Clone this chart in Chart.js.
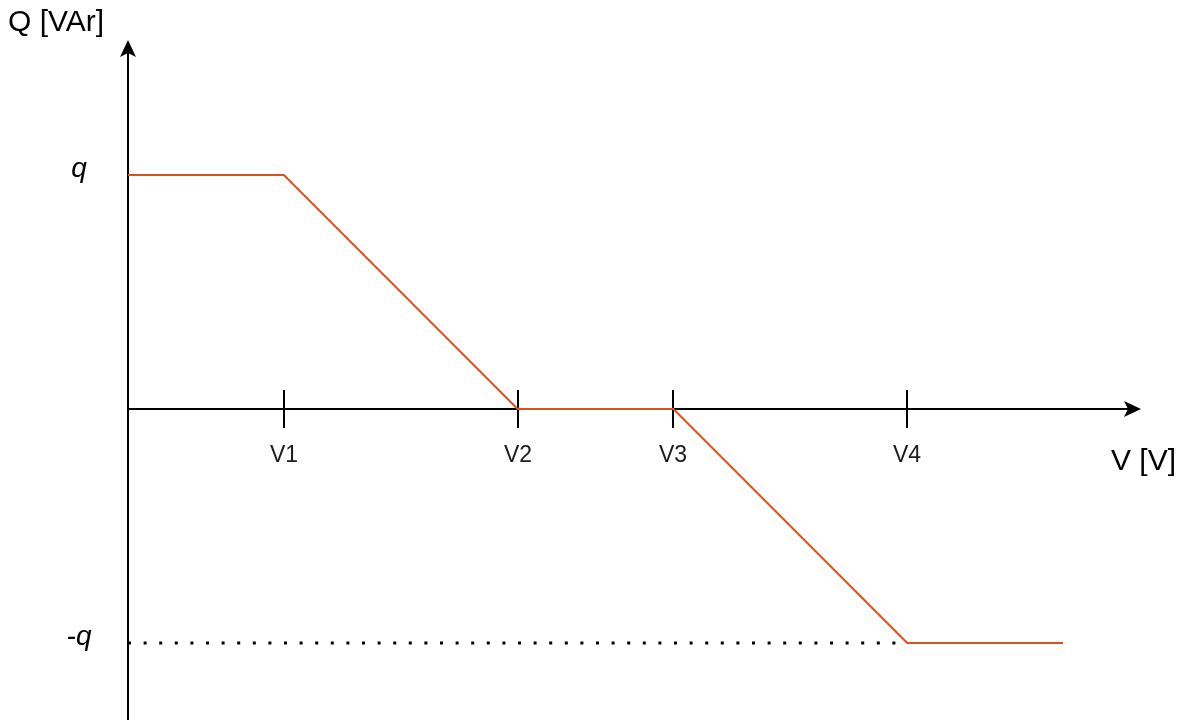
<!DOCTYPE html>
<html>
<head>
<meta charset="utf-8">
<title>Q(V) characteristic</title>
<script src="https://cdn.jsdelivr.net/npm/chart.js@4.4.1/dist/chart.umd.min.js"></script>
<style>
  html, body { margin: 0; padding: 0; background: #ffffff; }
  canvas { display: block; }
</style>
</head>
<body>
<canvas id="qv" width="1184" height="720"></canvas>
<script>
// Voltage breakpoints and their labels (units of the V axis)
const vLabels = ['V1', 'V2', 'V3', 'V4'];
const vValues = [2, 5, 7, 10];

// Reactive power curve Q(V)
const curveV = [0, 2, 5, 7, 10, 12];
const curveQ = [1, 1, 0, 0, -1, -1];

// Reactive power limits and their labels
const qLabels = ['q', '-q'];
const qValues = [1, -1];

// Axis titles
const yTitle = 'Q [VAr]';
const xTitle = 'V [V]';

const curvePoints = curveV.map((v, i) => ({ x: v, y: curveQ[i] }));
const limitLine = [{ x: 0, y: qValues[1] }, { x: vValues[3], y: qValues[1] }];

function arrowHead(ctx, tipX, tipY, dirX, dirY) {
  const len = 17, half = 8, notch = 4;
  const px = -dirY, py = dirX;
  const bx = tipX - dirX * len, by = tipY - dirY * len;
  ctx.beginPath();
  ctx.moveTo(tipX, tipY);
  ctx.lineTo(bx + px * half, by + py * half);
  ctx.lineTo(tipX - dirX * (len - notch), tipY - dirY * (len - notch));
  ctx.lineTo(bx - px * half, by - py * half);
  ctx.closePath();
  ctx.fill();
}

const axesPlugin = {
  id: 'qvAxes',
  beforeDatasetsDraw(chart) {
    const { ctx, chartArea, scales: { x, y } } = chart;
    const x0 = Math.round(x.getPixelForValue(0));
    const y0 = Math.round(y.getPixelForValue(0));
    ctx.save();
    ctx.strokeStyle = '#000';
    ctx.fillStyle = '#000';
    ctx.lineWidth = 2;
    // vertical axis
    ctx.beginPath();
    ctx.moveTo(x0, chart.height);
    ctx.lineTo(x0, chartArea.top + 6);
    ctx.stroke();
    arrowHead(ctx, x0, chartArea.top, 0, -1);
    // horizontal axis
    ctx.beginPath();
    ctx.moveTo(x0, y0);
    ctx.lineTo(chartArea.right - 6, y0);
    ctx.stroke();
    arrowHead(ctx, chartArea.right, y0, 1, 0);
    // breakpoint ticks and labels
    ctx.font = '23px "Liberation Sans", Arial, sans-serif';
    ctx.textAlign = 'center';
    ctx.textBaseline = 'alphabetic';
    ctx.fillStyle = '#1a1a1a';
    vValues.forEach((v, i) => {
      const px = Math.round(x.getPixelForValue(v));
      ctx.beginPath();
      ctx.moveTo(px, y0 - 19);
      ctx.lineTo(px, y0 + 19);
      ctx.stroke();
      ctx.fillText(vLabels[i], px, y0 + 53);
    });
    // q limit labels
    ctx.font = 'italic 28px "Liberation Sans", Arial, sans-serif';
    ctx.fillStyle = '#000';
    ctx.textAlign = 'center';
    ctx.textBaseline = 'alphabetic';
    qValues.forEach((q, i) => {
      ctx.fillText(qLabels[i], x0 - 49, y.getPixelForValue(q) + 2);
    });
    // axis titles
    ctx.font = '30px "Liberation Sans", Arial, sans-serif';
    ctx.textAlign = 'left';
    ctx.fillText(yTitle, 8, 31);
    ctx.textAlign = 'right';
    ctx.fillText(xTitle, 1176, y0 + 61);
    ctx.restore();
  }
};

new Chart(document.getElementById('qv'), {
  type: 'scatter',
  data: {
    datasets: [
      {
        data: limitLine,
        showLine: true,
        borderColor: '#000000',
        borderWidth: 3,
        borderDash: [3, 12.6],
        borderCapStyle: 'butt',
        pointRadius: 0,
        order: 2
      },
      {
        data: curvePoints,
        showLine: true,
        borderColor: '#D9531E',
        borderWidth: 2,
        pointRadius: 0,
        tension: 0,
        order: 1
      }
    ]
  },
  options: {
    responsive: false,
    animation: false,
    events: [],
    layout: { padding: { left: 128, right: 43, top: 40, bottom: 0 } },
    plugins: { legend: { display: false }, tooltip: { enabled: false } },
    scales: {
      x: { type: 'linear', display: false, min: 0, max: 13 },
      y: { type: 'linear', display: false, min: -1.329, max: 1.577 }
    }
  },
  plugins: [axesPlugin]
});
</script>
</body>
</html>
